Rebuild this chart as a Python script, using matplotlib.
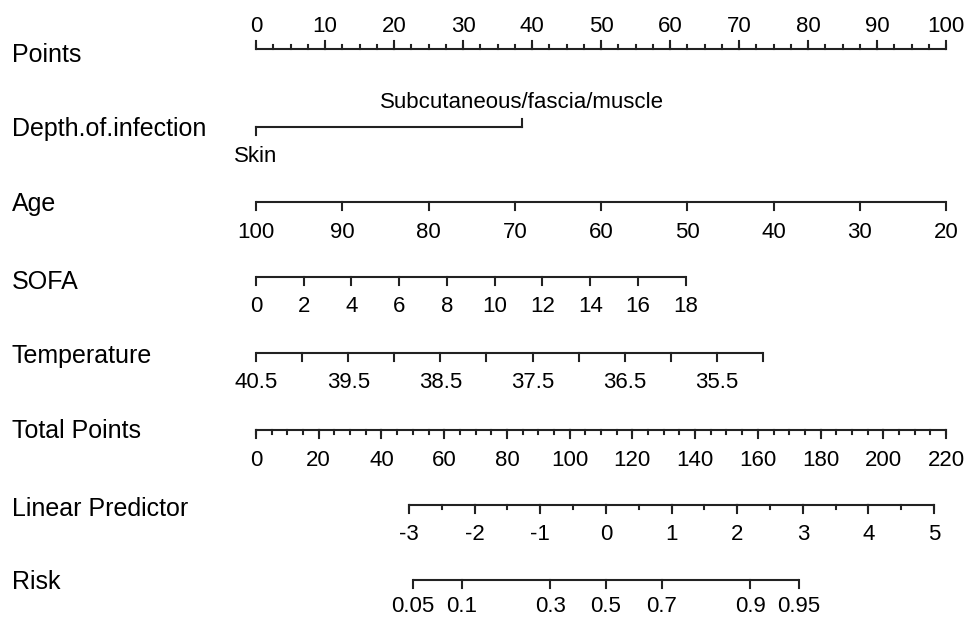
import numpy as np
import matplotlib.pyplot as plt

plt.rcParams['font.family'] = ['Liberation Sans', 'DejaVu Sans']

# Nomogram data
row_names = ['Points', 'Depth.of.infection', 'Age', 'SOFA', 'Temperature',
             'Total Points', 'Linear Predictor', 'Risk']

points_ticks = np.arange(0, 101, 10)
points_minor = np.arange(0, 100.1, 2.5)

depth_levels = ['Skin', 'Subcutaneous/fascia/muscle']
depth_points = [0, 38.5]

age_ticks = [100, 90, 80, 70, 60, 50, 40, 30, 20]
age_range = (100, 20)          # age giving 0 and 100 points

sofa_ticks = [0, 2, 4, 6, 8, 10, 12, 14, 16, 18]
sofa_pts_per_unit = 3.46

temp_labels = [40.5, 39.5, 38.5, 37.5, 36.5, 35.5]
temp_ticks = [40.5, 40.0, 39.5, 39.0, 38.5, 38.0, 37.5, 37.0, 36.5, 36.0, 35.5, 35.0]
temp_pts_per_deg = 13.36

total_ticks = np.arange(0, 221, 20)
total_minor = np.arange(0, 221, 5)
total_max = 220

lp_ticks = [-3, -2, -1, 0, 1, 2, 3, 4, 5]
lp_minor = np.arange(-3, 5.01, 0.5)
lp_at_zero_total = -5.332     # linear predictor at 0 total points
lp_per_total_point = 0.04779

risk_ticks = [0.05, 0.1, 0.3, 0.5, 0.7, 0.9, 0.95]


def age_pts(a):
    return (age_range[0] - np.asarray(a, float)) * 100 / (age_range[0] - age_range[1])


def sofa_pts(s):
    return np.asarray(s, float) * sofa_pts_per_unit


def temp_pts(t):
    return (40.5 - np.asarray(t, float)) * temp_pts_per_deg


def total_pts(tp):
    return np.asarray(tp, float) * 100 / total_max


def lp_pts(lp):
    return total_pts((np.asarray(lp, float) - lp_at_zero_total) / lp_per_total_point)


def risk_pts(r):
    r = np.asarray(r, float)
    return lp_pts(np.log(r / (1 - r)))


fig = plt.figure(figsize=(9.66, 6.18), dpi=100)
ax = fig.add_axes([0, 0, 1, 1])
# x in points units (0 at 256 px, 100 at 946 px), y in pixels from top
ax.set_xlim(-256 / 6.9, (966 - 256) / 6.9)
ax.set_ylim(618, 0)
ax.axis('off')

LC = '#222222'
LW = 1.5
TICK = 8       # major tick length (px)
MINOR = 4
LAB_FS = 18
TICK_FS = 16


def scale(y, major, labels=None, minor=None, up=False, label_off=30):
    major = np.atleast_1d(major)
    allpos = major if minor is None else np.concatenate([major, minor])
    ax.plot([allpos.min(), allpos.max()], [y, y], color=LC, lw=LW,
            solid_capstyle='butt')
    sgn = -1 if up else 1
    for x in major:
        ax.plot([x, x], [y, y + sgn * TICK], color=LC, lw=LW)
    if minor is not None:
        for x in minor:
            ax.plot([x, x], [y, y + sgn * MINOR], color=LC, lw=LW)
    if labels is not None:
        for x, s in zip(labels[0], labels[1]):
            ax.text(x, y + sgn * label_off, s, ha='center', va='center',
                    fontsize=TICK_FS, color='black')


def fmt(v):
    return f'{v:g}'


row_y = [49, 127, 202, 277, 353, 430, 505, 580]
name_y = [55, 129, 204, 282, 356, 431, 509, 582]

for name, yy in zip(row_names, name_y):
    ax.text(12 / 966, yy, name, transform=ax.get_yaxis_transform(),
            ha='left', va='center', fontsize=LAB_FS)

# Points
scale(row_y[0], points_ticks, (points_ticks, [fmt(v) for v in points_ticks]),
      minor=points_minor, up=True, label_off=22)

# Depth of infection
y = row_y[1]
ax.plot(depth_points, [y, y], color=LC, lw=LW)
ax.plot([depth_points[0]] * 2, [y, y + TICK], color=LC, lw=LW)
ax.plot([depth_points[1]] * 2, [y, y - TICK], color=LC, lw=LW)
ax.text(depth_points[0], y + 30, depth_levels[0], ha='center', va='center', fontsize=TICK_FS)
ax.text(depth_points[1], y - 25, depth_levels[1], ha='center', va='center', fontsize=TICK_FS)

# Age
scale(row_y[2], age_pts(age_ticks), (age_pts(age_ticks), [fmt(v) for v in age_ticks]))

# SOFA
scale(row_y[3], sofa_pts(sofa_ticks), (sofa_pts(sofa_ticks), [fmt(v) for v in sofa_ticks]))

# Temperature
scale(row_y[4], temp_pts(temp_ticks), (temp_pts(temp_labels), [fmt(v) for v in temp_labels]))

# Total points
scale(row_y[5], total_pts(total_ticks),
      (total_pts(total_ticks), [fmt(v) for v in total_ticks]),
      minor=total_pts(total_minor))

# Linear predictor
scale(row_y[6], lp_pts(lp_ticks), (lp_pts(lp_ticks), [fmt(v) for v in lp_ticks]),
      minor=lp_pts(lp_minor))

# Risk
scale(row_y[7], risk_pts(risk_ticks), (risk_pts(risk_ticks), [fmt(v) for v in risk_ticks]),
      label_off=26)

fig.savefig('out.png', dpi=100)
